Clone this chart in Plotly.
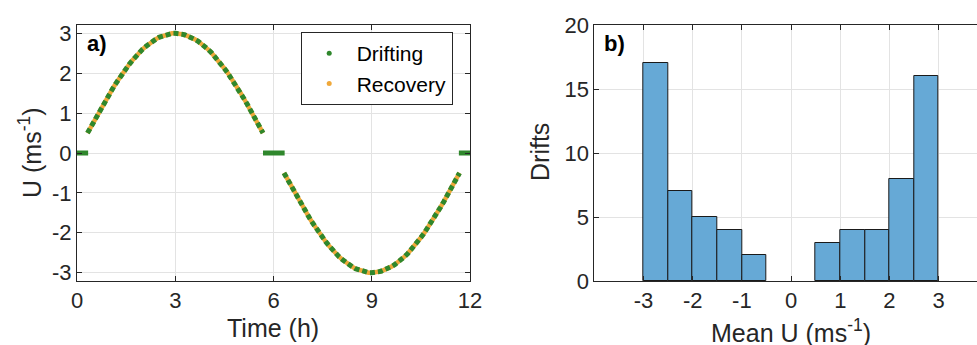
import plotly.graph_objects as go

# ---------------- data: panel a) ----------------
rise_time = [0.32, 0.4, 0.5, 0.6, 0.7, 0.8, 0.9, 1.0, 1.1, 1.2, 1.3, 1.4, 1.5, 1.6, 1.7, 1.8,
             1.9, 2.0, 2.1, 2.2, 2.3, 2.4, 2.5, 2.6, 2.7, 2.8, 2.9, 3.0, 3.1, 3.2, 3.3, 3.4,
             3.5, 3.6, 3.7, 3.8, 3.9, 4.0, 4.1, 4.2, 4.3, 4.4, 4.5, 4.6, 4.7, 4.8, 4.9, 5.0,
             5.1, 5.2, 5.3, 5.4, 5.5, 5.6, 5.68]
rise_u = [0.50, 0.62, 0.78, 0.93, 1.08, 1.22, 1.36, 1.50, 1.63, 1.76, 1.89, 2.01, 2.12, 2.23,
          2.33, 2.43, 2.52, 2.60, 2.67, 2.74, 2.80, 2.85, 2.90, 2.93, 2.96, 2.98, 3.00, 3.00,
          3.00, 2.98, 2.96, 2.93, 2.90, 2.85, 2.80, 2.74, 2.67, 2.60, 2.52, 2.43, 2.33, 2.23,
          2.12, 2.01, 1.89, 1.76, 1.63, 1.50, 1.36, 1.22, 1.08, 0.93, 0.78, 0.62, 0.50]
fall_time = [6.32, 6.4, 6.5, 6.6, 6.7, 6.8, 6.9, 7.0, 7.1, 7.2, 7.3, 7.4, 7.5, 7.6, 7.7, 7.8,
             7.9, 8.0, 8.1, 8.2, 8.3, 8.4, 8.5, 8.6, 8.7, 8.8, 8.9, 9.0, 9.1, 9.2, 9.3, 9.4,
             9.5, 9.6, 9.7, 9.8, 9.9, 10.0, 10.1, 10.2, 10.3, 10.4, 10.5, 10.6, 10.7, 10.8,
             10.9, 11.0, 11.1, 11.2, 11.3, 11.4, 11.5, 11.6, 11.68]
fall_u = [-0.50, -0.62, -0.78, -0.93, -1.08, -1.22, -1.36, -1.50, -1.63, -1.76, -1.89, -2.01,
          -2.12, -2.23, -2.33, -2.43, -2.52, -2.60, -2.67, -2.74, -2.80, -2.85, -2.90, -2.93,
          -2.96, -2.98, -3.00, -3.00, -3.00, -2.98, -2.96, -2.93, -2.90, -2.85, -2.80, -2.74,
          -2.67, -2.60, -2.52, -2.43, -2.33, -2.23, -2.12, -2.01, -1.89, -1.76, -1.63, -1.50,
          -1.36, -1.22, -1.08, -0.93, -0.78, -0.62, -0.50]
calm_start = [0.0, 5.68, 11.66]
calm_end = [0.34, 6.34, 12.0]
calm_u = [0.0, 0.0, 0.0]

time_ticks = [0, 3, 6, 9, 12]
u_ticks = [-3, -2, -1, 0, 1, 2, 3]
u_ticklabels = ["-3", "-2", "-1", "0", "1", "2", "3"]

# ---------------- data: panel b) ----------------
bin_left = [-3.0, -2.5, -2.0, -1.5, -1.0, -0.5, 0.0, 0.5, 1.0, 1.5, 2.0, 2.5]
bin_right = [-2.5, -2.0, -1.5, -1.0, -0.5, 0.0, 0.5, 1.0, 1.5, 2.0, 2.5, 3.0]
drift_counts = [17, 7, 5, 4, 2, 0, 0, 3, 4, 4, 8, 16]
meanu_ticks = [-3, -2, -1, 0, 1, 2, 3]
meanu_ticklabels = ["-3", "-2", "-1", "0", "1", "2", "3"]
drift_ticks = [0, 5, 10, 15, 20]

GREEN = "#2f872c"
ORANGE = "#f0a83a"
BAR = "#66a9d6"
INK = "#262626"
GRID = "#e3e3e3"
FONT = "Liberation Sans, Arial, sans-serif"

# page layout in pixels
W, H = 977, 345
ML, MR, MT, MB = 77, 0, 25, 64
PW, PH = W - ML - MR, H - MT - MB


def px(x):
    return (x - ML) / PW


def py(y):
    return (H - MB - y) / PH


fig = go.Figure()

# curve: orange underneath, green dashed on top
curve_x = rise_time + [None] + fall_time
curve_y = rise_u + [None] + fall_u
fig.add_trace(go.Scatter(x=curve_x, y=curve_y, mode="lines", showlegend=False,
                         line=dict(color=ORANGE, width=4.5), hoverinfo="skip",
                         xaxis="x", yaxis="y"))
fig.add_trace(go.Scatter(x=curve_x, y=curve_y, mode="lines", showlegend=False,
                         line=dict(color=GREEN, width=5, dash="5px,3px"),
                         xaxis="x", yaxis="y"))
calm_x, calm_y = [], []
for s, e, u in zip(calm_start, calm_end, calm_u):
    calm_x += [s, e, None]
    calm_y += [u, u, None]
fig.add_trace(go.Scatter(x=calm_x, y=calm_y, mode="lines", showlegend=False,
                         line=dict(color=GREEN, width=5), xaxis="x", yaxis="y"))

# legend entries (dots)
fig.add_trace(go.Scatter(x=[None], y=[None], mode="markers", name="Drifting",
                         marker=dict(color=GREEN, size=5), xaxis="x", yaxis="y"))
fig.add_trace(go.Scatter(x=[None], y=[None], mode="markers", name="Recovery",
                         marker=dict(color=ORANGE, size=5), xaxis="x", yaxis="y"))

# histogram bars (empty bins are not drawn)
centers = [(a + b) / 2 for a, b, c in zip(bin_left, bin_right, drift_counts) if c > 0]
widths = [b - a for a, b, c in zip(bin_left, bin_right, drift_counts) if c > 0]
counts = [c for c in drift_counts if c > 0]
fig.add_trace(go.Bar(x=centers, y=counts, width=widths, showlegend=False,
                     marker=dict(color=BAR, line=dict(color="#1a1a1a", width=1)),
                     xaxis="x2", yaxis="y2"))

axis_common = dict(showline=True, linecolor=INK, linewidth=1, ticks="inside", ticklen=5,
                   tickcolor=INK, showgrid=True, gridcolor=GRID, gridwidth=1,
                   zeroline=False, automargin=False,
                   tickfont=dict(family=FONT, size=22, color=INK))

fig.update_layout(
    width=W, height=H,
    margin=dict(l=ML, r=MR, t=MT, b=MB, autoexpand=False),
    paper_bgcolor="white", plot_bgcolor="white",
    font=dict(family=FONT, color=INK),
    bargap=0,
    xaxis=dict(domain=[0, px(470)], range=[0, 12], tickvals=time_ticks,
               mirror="ticks", **axis_common),
    yaxis=dict(domain=[0, 1], range=[-3.21, 3.21], tickvals=u_ticks,
               ticktext=u_ticklabels, mirror="ticks", **axis_common),
    xaxis2=dict(domain=[px(594.3), 1.0], range=[-4.0, 3.78], tickvals=meanu_ticks,
                ticktext=meanu_ticklabels, anchor="y2", mirror="ticks", **axis_common),
    yaxis2=dict(domain=[0, 1], range=[0, 20], tickvals=drift_ticks,
                anchor="x2", mirror=False, **axis_common),
    legend=dict(x=px(300.7), y=py(32), xanchor="left", yanchor="top",
                bordercolor=INK, borderwidth=1, bgcolor="white",
                font=dict(family=FONT, size=21, color="black"), itemwidth=45,
                tracegroupgap=0),
    annotations=[
        dict(text="<b>a)</b>", x=px(85), y=py(43), xref="paper", yref="paper",
             xanchor="left", yanchor="middle", showarrow=False,
             font=dict(family=FONT, size=22, color="black")),
        dict(text="<b>b)</b>", x=px(602), y=py(43), xref="paper", yref="paper",
             xanchor="left", yanchor="middle", showarrow=False,
             font=dict(family=FONT, size=22, color="black")),
        dict(text="U (ms<sup>-1</sup>)", x=px(30), y=py(153), xref="paper", yref="paper",
             xanchor="center", yanchor="middle", textangle=-90, showarrow=False,
             font=dict(family=FONT, size=25, color=INK)),
        dict(text="Time (h)", x=px(273.3), y=py(328), xref="paper", yref="paper",
             xanchor="center", yanchor="middle", showarrow=False,
             font=dict(family=FONT, size=25, color=INK)),
        dict(text="Drifts", x=px(540), y=py(152), xref="paper", yref="paper",
             xanchor="center", yanchor="middle", textangle=-90, showarrow=False,
             font=dict(family=FONT, size=25, color=INK)),
        dict(text="Mean U (ms<sup>-1</sup>)", x=px(790.8), y=py(331), xref="paper",
             yref="paper", xanchor="center", yanchor="middle", showarrow=False,
             font=dict(family=FONT, size=25, color=INK)),
    ],
)

fig.write_html("out.html", config={"displayModeBar": False},
               post_script="document.body.style.margin='0';document.body.style.overflow='hidden';")
